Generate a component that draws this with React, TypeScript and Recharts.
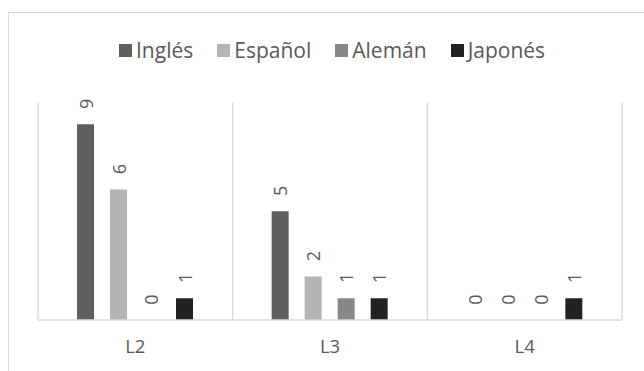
import React from 'react';
import { BarChart, Bar, XAxis, YAxis, CartesianGrid, Legend, LabelList } from 'recharts';

// Languages per level
const categories = ['L2', 'L3', 'L4'];
const seriesNames = ['Inglés', 'Español', 'Alemán', 'Japonés'];
const ingles = [9, 5, 0];
const espanol = [6, 2, 0];
const aleman = [0, 1, 0];
const japones = [1, 1, 1];
const seriesColors = ['#5f5f5f', '#b4b4b4', '#888888', '#222222'];
const yDomain: [number, number] = [0, 10];

const seriesValues = [ingles, espanol, aleman, japones];

const data = categories.map((cat, i) => {
  const row: Record<string, string | number> = { cat };
  seriesNames.forEach((name, s) => {
    row[name] = seriesValues[s][i];
  });
  return row;
});

const FONT = '"Open Sans", "DejaVu Sans", sans-serif';
const TEXT = '#595959';
const GRID = '#d9d9d9';

const AxisTick = (props: any) => {
  const { x, y, payload } = props;
  return (
    <text x={x} y={y} dy={25.3} textAnchor="middle" fill={TEXT} fontSize={18.5} fontFamily={FONT}>
      {payload.value}
    </text>
  );
};

// Value label turned 90° counter-clockwise, sitting above the bar top
const renderRotatedLabel = (props: any) => {
  const { x, y, width, height, value, viewBox } = props;
  const bx = Number(x ?? viewBox?.x);
  const by = Number(y ?? viewBox?.y);
  const bw = Number(width ?? viewBox?.width ?? 0);
  const bh = Number(height ?? viewBox?.height ?? 0);
  const top = Math.min(by, by + bh);
  const cx = bx + bw / 2;
  const cy = top - 20.5;
  if (!Number.isFinite(cx) || !Number.isFinite(cy)) return null;
  return (
    <text
      x={cx}
      y={cy}
      transform={`rotate(-90, ${cx}, ${cy})`}
      textAnchor="middle"
      dominantBaseline="central"
      fill={TEXT}
      fontSize={18}
      fontFamily={FONT}
    >
      {String(value ?? 0)}
    </text>
  );
};

// Zero-valued bars keep a hairline rectangle so their "0" labels are still placed
const zeroKeeper = (value: any) => (Number(value) === 0 ? 0.01 : 0);

const LegendContent = (props: any) => {
  const items = [...(props.payload || [])].sort(
    (a: any, b: any) => seriesNames.indexOf(a.value) - seriesNames.indexOf(b.value)
  );
  return (
    <div style={{ display: 'flex', alignItems: 'center', height: 20, fontFamily: FONT, fontSize: 21, lineHeight: '20px', color: TEXT, whiteSpace: 'nowrap' }}>
      {items.map((item: any, i: number) => (
        <div key={i} style={{ display: 'flex', alignItems: 'center', marginRight: 24 }}>
          <span style={{ display: 'inline-block', width: 13, height: 13, background: item.color, marginRight: 4 }} />
          <span>{item.value}</span>
        </div>
      ))}
    </div>
  );
};

export default function App() {
  return (
    <div style={{ position: 'fixed', left: 0, top: 0, width: 644, height: 371, overflow: 'hidden', background: '#fff' }}>
      <div
        style={{
          position: 'absolute',
          left: 8,
          top: 12,
          width: 636,
          height: 359,
          borderTop: `1px solid ${GRID}`,
          borderLeft: `1px solid ${GRID}`,
          boxSizing: 'border-box',
        }}
      />
      <div style={{ position: 'absolute', left: 0, top: 0 }}>
        <BarChart
          width={644}
          height={371}
          data={data}
          margin={{ top: 102.5, right: 22, left: 38, bottom: 0 }}
          barCategoryGap={39}
          barGap={16}
        >
          <CartesianGrid
            horizontal={false}
            stroke={GRID}
            strokeWidth={1.3}
            verticalCoordinatesGenerator={({ offset }: any) =>
              Array.from({ length: categories.length + 1 }, (_, i) => offset.left + (i * offset.width) / categories.length)
            }
          />
          <XAxis
            dataKey="cat"
            height={51}
            axisLine={{ stroke: GRID, strokeWidth: 1.3 }}
            tickLine={false}
            tick={<AxisTick />}
            interval={0}
          />
          <YAxis hide domain={yDomain} />
          <Legend
            layout="horizontal"
            verticalAlign="middle"
            align="center"
            itemSorter={null as any}
            content={<LegendContent />}
            wrapperStyle={{ position: 'absolute', left: 119, top: 40, width: 'auto', height: 20 }}
          />
          {seriesNames.map((name, s) => (
            <Bar key={name} dataKey={name} fill={seriesColors[s]} minPointSize={zeroKeeper as any} isAnimationActive={false}>
              <LabelList dataKey={name} content={renderRotatedLabel} />
            </Bar>
          ))}
        </BarChart>
      </div>
    </div>
  );
}
